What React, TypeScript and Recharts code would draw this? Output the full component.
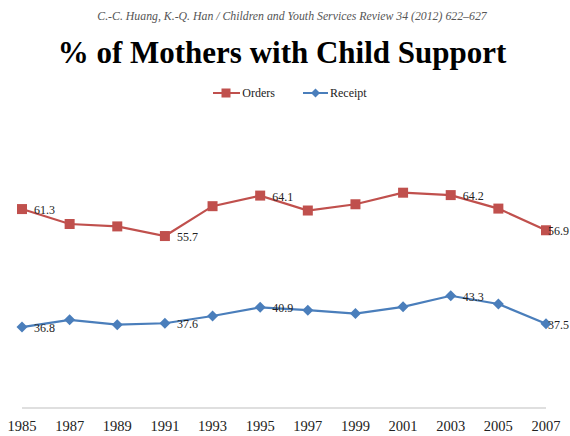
import React from "react";
import { LineChart, Line, XAxis, YAxis, LabelList } from "recharts";

const years = ["1985", "1987", "1989", "1991", "1993", "1995", "1997", "1999", "2001", "2003", "2005", "2007"];
const orders = [61.3, 58.2, 57.7, 55.7, 61.9, 64.1, 61.0, 62.3, 64.7, 64.2, 61.4, 56.9];
const receipt = [36.8, 38.3, 37.3, 37.6, 39.1, 40.9, 40.3, 39.6, 41.0, 43.3, 41.6, 37.5];
const labeledYears = ["1985", "1991", "1995", "2003", "2007"];

const data = years.map((y, i) => ({ year: y, orders: orders[i], receipt: receipt[i] }));

const RED = "#c0504d";
const BLUE = "#4a7ebb";
const SERIF = "'Liberation Serif', 'Times New Roman', serif";

const SquareDot = (props: any) => {
  const { cx, cy } = props;
  if (cx == null || cy == null) return null;
  return <rect x={cx - 5} y={cy - 5} width={10} height={10} fill={RED} stroke="none" />;
};

const DiamondDot = (props: any) => {
  const { cx, cy } = props;
  if (cx == null || cy == null) return null;
  const r = 5.5;
  return <path d={`M${cx},${cy - r} L${cx + r},${cy} L${cx},${cy + r} L${cx - r},${cy} Z`} fill={BLUE} stroke="none" />;
};

const renderLabel = (props: any) => {
  const { x, y, value, index } = props;
  if (!labeledYears.includes(years[index])) return null;
  const tx = Math.min(x + 12, 548);
  return (
    <text x={tx} y={y + 1} fontSize={12} fontFamily={SERIF} fill="#222" dominantBaseline="central" textAnchor="start">
      {Number(value).toFixed(1)}
    </text>
  );
};

const LegendBox = () => (
  <div
    style={{
      position: "absolute",
      top: 85,
      left: 0,
      width: 570,
      height: 16,
      paddingLeft: 10,
      boxSizing: "border-box",
      display: "flex",
      justifyContent: "center",
      fontFamily: SERIF,
      fontSize: 12,
      color: "#222",
      lineHeight: "16px",
    }}
  >
    <div style={{ display: "flex", alignItems: "center", marginRight: 28 }}>
      <svg width={27} height={12}>
        <line x1={0} y1={6} x2={27} y2={6} stroke={RED} strokeWidth={2} />
        <rect x={8.5} y={1.5} width={9} height={9} fill={RED} />
      </svg>
      <span style={{ marginLeft: 2 }}>Orders</span>
    </div>
    <div style={{ display: "flex", alignItems: "center" }}>
      <svg width={25} height={12}>
        <line x1={0} y1={6} x2={25} y2={6} stroke={BLUE} strokeWidth={2} />
        <path d="M12.5,1.5 L17,6 L12.5,10.5 L8,6 Z" fill={BLUE} />
      </svg>
      <span style={{ marginLeft: 2 }}>Receipt</span>
    </div>
  </div>
);

export default function App() {
  return (
    <div style={{ position: "absolute", left: 0, top: 0, width: 570, height: 436, background: "#fff", overflow: "hidden" }}>
      <div
        style={{
          position: "absolute",
          top: 8,
          left: 0,
          width: 584,
          textAlign: "center",
          fontFamily: SERIF,
          fontStyle: "italic",
          fontSize: 11.8,
          color: "#555",
          lineHeight: "16px",
        }}
      >
        C.-C. Huang, K.-Q. Han / Children and Youth Services Review 34 (2012) 622–627
      </div>
      <div
        style={{
          position: "absolute",
          top: 34,
          left: 0,
          width: 564,
          textAlign: "center",
          fontFamily: SERIF,
          fontWeight: "bold",
          fontSize: 31,
          color: "#000",
          lineHeight: "38px",
        }}
      >
        % of Mothers with Child Support
      </div>
      <LegendBox />
      <div style={{ position: "absolute", left: 0, top: 0 }}>
        <LineChart width={570} height={436} data={data} margin={{ top: 119, right: 24, bottom: 0, left: 22 }}>
          <XAxis
            dataKey="year"
            axisLine={{ stroke: "#c0c0c0", strokeWidth: 1.2 }}
            tickLine={false}
            tickSize={0}
            tickMargin={13}
            height={28}
            interval={0}
            tick={{ fontFamily: SERIF, fontSize: 14.5, fill: "#222" }}
          />
          <YAxis hide domain={[20, 80]} />
          <Line
            dataKey="orders"
            stroke={RED}
            strokeWidth={2.2}
            dot={<SquareDot />}
            activeDot={false}
            isAnimationActive={false}
          >
            <LabelList dataKey="orders" content={renderLabel} />
          </Line>
          <Line
            dataKey="receipt"
            stroke={BLUE}
            strokeWidth={2.2}
            dot={<DiamondDot />}
            activeDot={false}
            isAnimationActive={false}
          >
            <LabelList dataKey="receipt" content={renderLabel} />
          </Line>
        </LineChart>
      </div>
    </div>
  );
}
